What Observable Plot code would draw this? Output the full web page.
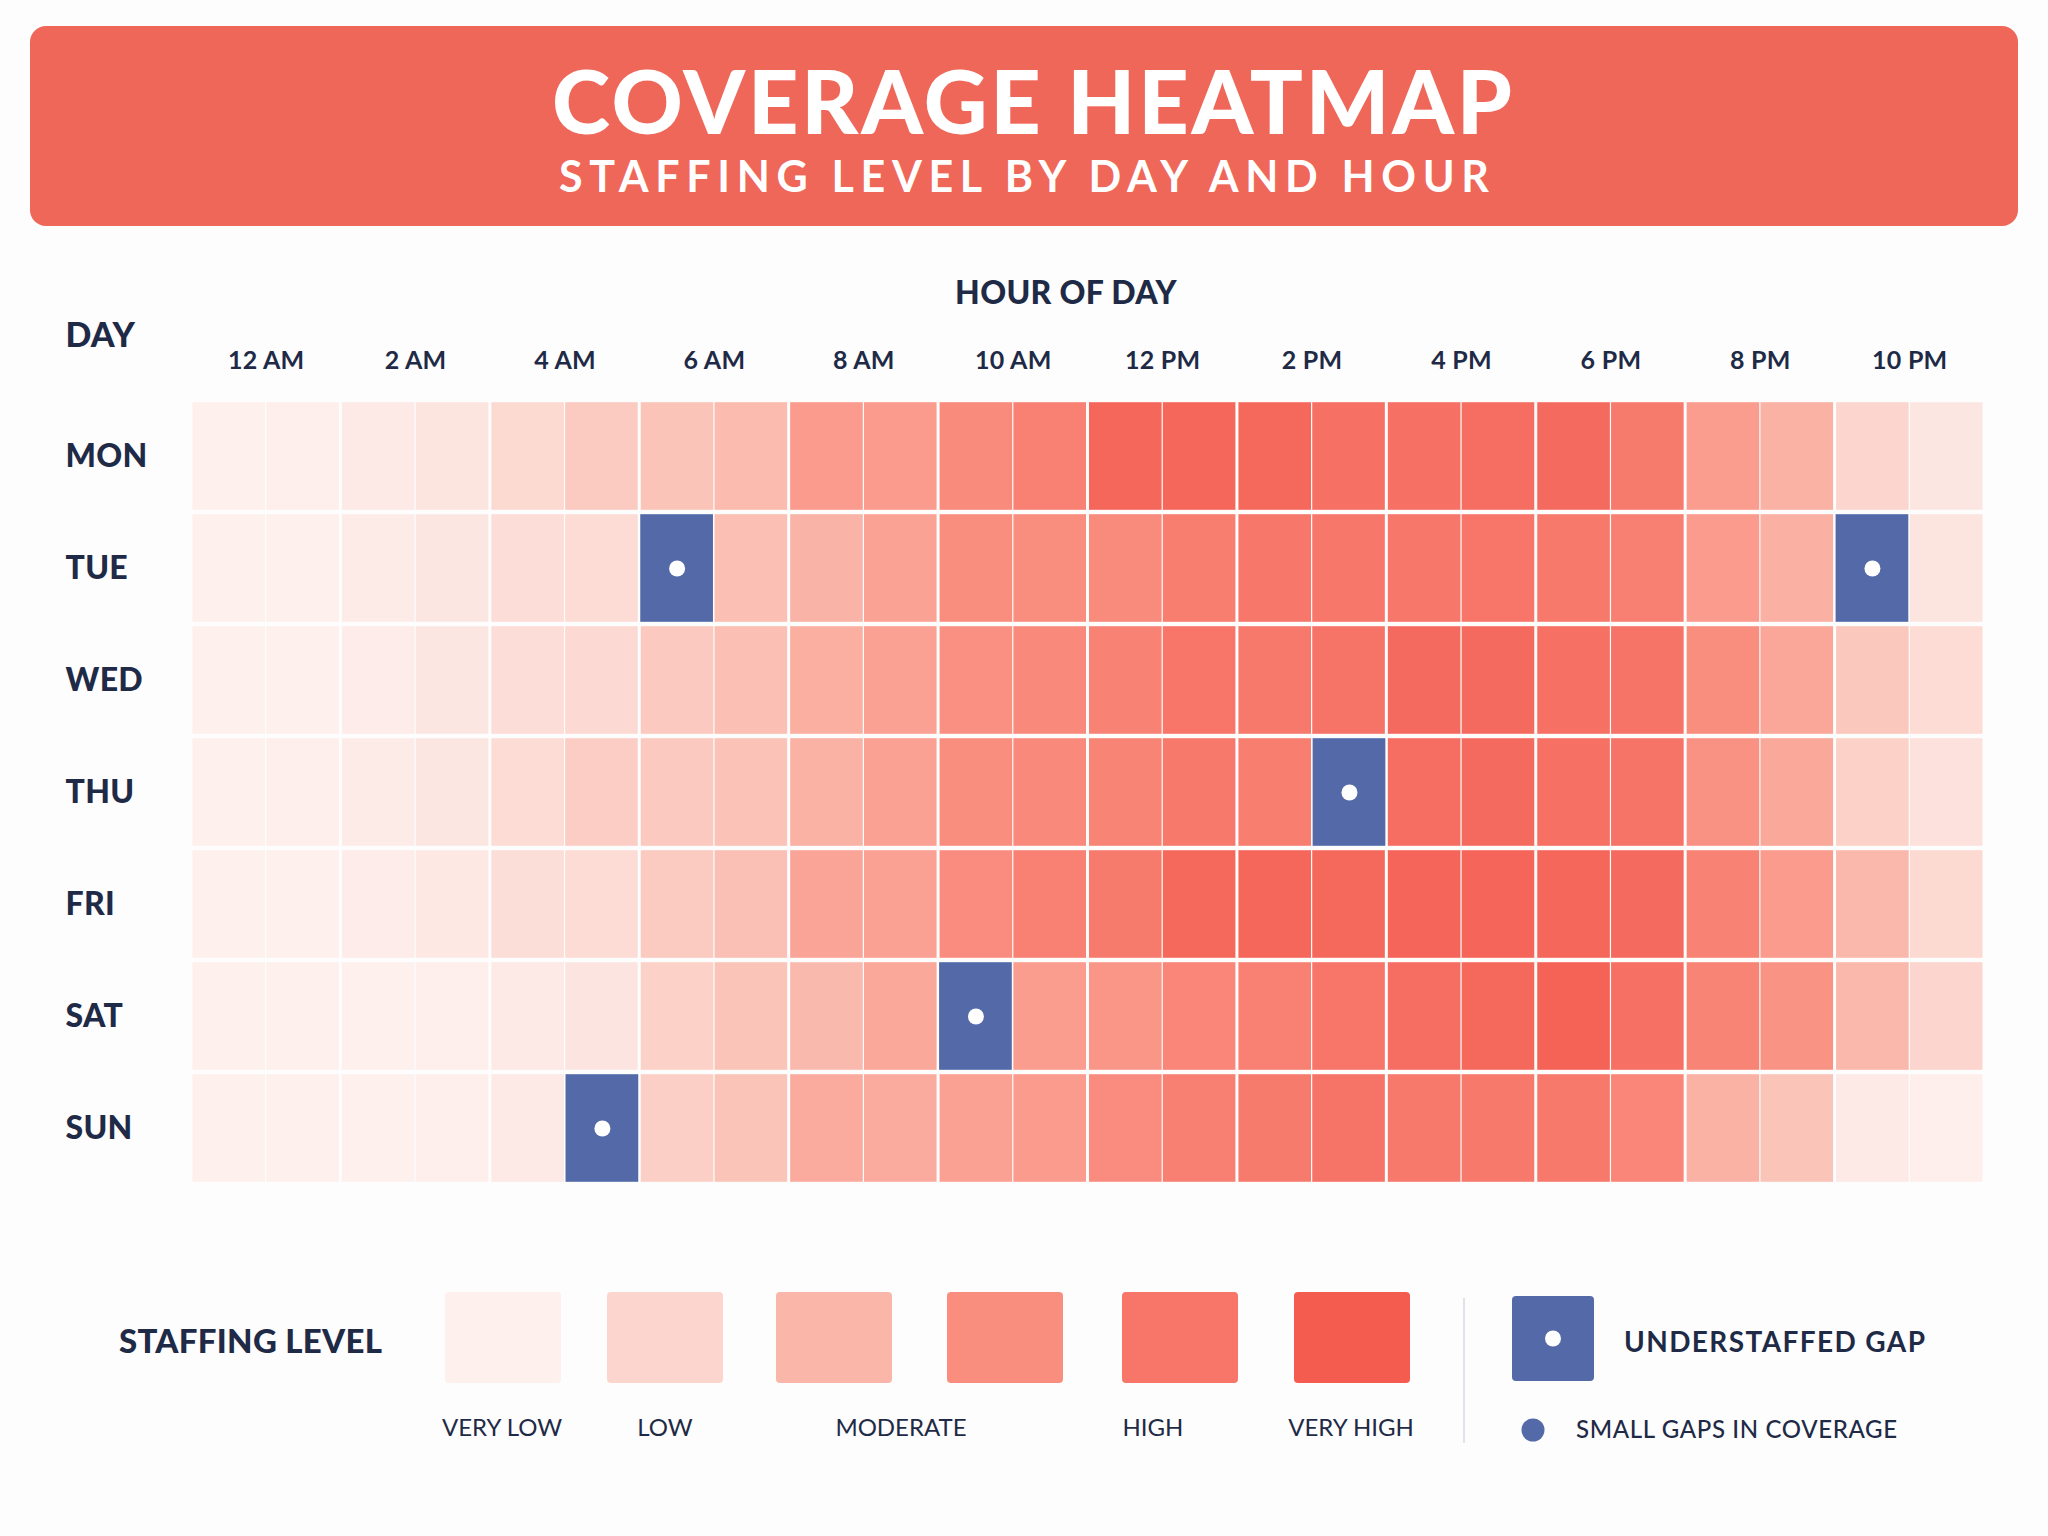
<!DOCTYPE html>
<html>
<head>
<meta charset="utf-8">
<script src="https://cdn.jsdelivr.net/npm/d3@7"></script>
<script src="https://cdn.jsdelivr.net/npm/@observablehq/plot@0.6"></script>
<style>
  html, body { margin: 0; padding: 0; background: #FDFDFD; }
  #page { position: relative; width: 2048px; height: 1536px; overflow: hidden; font-family: Lato, "Open Sans", sans-serif; }
  #page > svg { position: absolute; left: 0; }
</style>
</head>
<body>
<div id="page"></div>
<script>
// Rows of the heatmap and the hour labels along the top
const days = ["MON", "TUE", "WED", "THU", "FRI", "SAT", "SUN"];
const hourLabels = ["12 AM", "2 AM", "4 AM", "6 AM", "8 AM", "10 AM", "12 PM", "2 PM", "4 PM", "6 PM", "8 PM", "10 PM"];

// Staffing level per hour (0..23), 1 = very low, 10 = very high; null = understaffed gap
const mon = [1, 1.1, 1.6, 2, 2.8, 3.6, 4, 4.5, 6.3, 6.3, 7.2, 7.8, 9.4, 9.4, 9.3, 8.8, 8.8, 9, 9.2, 8.2, 6.2, 5, 3, 1.8];
const tue = [1, 1, 1.4, 1.8, 2.5, 2.6, null, 4.3, 4.9, 5.9, 7, 7, 7.2, 8, 8.4, 8.4, 8.4, 8.5, 8.3, 7.9, 6.3, 5.1, null, 2];
const wed = [1, 1, 1.3, 1.8, 2.5, 2.7, 3.7, 4.3, 5.2, 6, 6.9, 7.3, 7.7, 8.5, 8.3, 8.6, 9.2, 9.2, 8.8, 8.6, 7, 5.7, 3.8, 2.6];
const thu = [1, 1.1, 1.4, 1.8, 2.6, 3.5, 3.7, 4.1, 5, 6, 7, 7.3, 7.6, 8.3, 8, null, 9, 9.2, 8.8, 8.6, 6.8, 5.6, 3.3, 2.2];
const fri = [1, 1, 1.3, 1.7, 2.4, 2.6, 3.6, 4.2, 5.8, 6, 7.1, 7.8, 8.2, 9.3, 9.4, 9.3, 9.5, 9.5, 9.4, 9.2, 7.7, 6.3, 4.7, 2.8];
const sat = [1, 1, 1, 1.1, 1.6, 1.9, 3.3, 4, 4.6, 5.6, null, 6.2, 6.6, 7.5, 7.8, 8.5, 9, 9.3, 9.6, 8.8, 7.6, 6.7, 4.7, 3];
const sun = [1, 1, 1, 1.1, 1.6, null, 3.4, 4, 5.4, 5.4, 6, 6.3, 7.1, 7.9, 8.2, 8.6, 8.3, 8.3, 8.3, 7.5, 5, 4, 1.6, 1.1];

// Understaffed hours, drawn in blue with a marker dot
const gapDays = ["TUE", "TUE", "THU", "SAT", "SUN"];
const gapHours = [6, 22, 15, 10, 5];

// Colour ramp for staffing level
const levelStops = [1, 2, 3, 4, 5, 6, 7, 8, 9, 10];
const levelColors = ["#FEF0ED", "#FCE4DF", "#FCD6CE", "#FBC4B9", "#FAB2A5", "#FAA193", "#F98E7F", "#F87E70", "#F56E61", "#F55C50"];

// Legend swatches and their captions
const legendLevels = [1, 3, 4.8, 7, 8.5, 10];
const legendNames = ["VERY LOW", "LOW", "MODERATE", "HIGH", "VERY HIGH"];

const NAVY = "#1F2A46";
const GAP_BLUE = "#5469A8";
const HEADER_RED = "#EF6759";

const series = [mon, tue, wed, thu, fri, sat, sun];
const cells = days.flatMap((day, i) => series[i].map((level, hour) => ({day, hour, level})))
  .filter(d => d.level != null);
const gaps = gapDays.map((day, i) => ({day, hour: gapHours[i]}));

const page = d3.select("#page");

// ---- Header banner ----
const header = page.append("svg").attr("width", 2048).attr("height", 240).style("top", "0px");
header.append("rect").attr("x", 30).attr("y", 26).attr("width", 1988).attr("height", 200)
  .attr("rx", 16).attr("fill", HEADER_RED);
header.append("text").text("COVERAGE HEATMAP")
  .attr("x", 1032).attr("y", 134).attr("text-anchor", "middle")
  .attr("textLength", 960).attr("lengthAdjust", "spacing")
  .attr("fill", "white").style("font", "900 88px Lato");
header.append("text").text("STAFFING LEVEL BY DAY AND HOUR")
  .attr("x", 1024).attr("y", 192).attr("text-anchor", "middle")
  .attr("textLength", 930).attr("lengthAdjust", "spacing")
  .attr("fill", "white").style("font", "700 43px Lato");

// ---- Heatmap ----
const cellOpts = {x1: "hour", x2: d => d.hour + 1, y: "day", insetTop: 2.2, insetBottom: 2.2};
const chart = Plot.plot({
  width: 2048,
  height: 942,
  marginTop: 150,
  marginLeft: 191,
  marginRight: 64,
  marginBottom: 8,
  style: {fontFamily: "Lato", color: NAVY, background: "transparent", overflow: "visible"},
  x: {domain: [0, 24], axis: null},
  y: {domain: days, padding: 0, axis: null},
  color: {type: "linear", domain: levelStops, range: levelColors, interpolate: "rgb"},
  marks: [
    Plot.barX(cells.filter(d => d.hour % 2 === 0), {...cellOpts, fill: "level", insetLeft: 1.5, insetRight: 0.6}),
    Plot.barX(cells.filter(d => d.hour % 2 === 1), {...cellOpts, fill: "level", insetLeft: 0.6, insetRight: 1.5}),
    Plot.barX(gaps, {...cellOpts, fill: GAP_BLUE, insetLeft: 1, insetRight: 1}),
    Plot.dot(gaps, {x: d => d.hour + 0.5, y: "day", r: 8, fill: "white"}),
    Plot.axisX(hourLabels.map((_, i) => 2 * i + 1), {
      anchor: "top", label: null, tickSize: 0, tickPadding: 32,
      tickFormat: d => hourLabels[(d - 1) / 2],
      fontSize: 25, fontWeight: 700
    }),
    Plot.axisY({anchor: "left", label: null, tickSize: 0, tickPadding: 0, textAnchor: "start", dx: -126, fontSize: 32, fontWeight: 900}),
    Plot.text(["HOUR OF DAY"], {frameAnchor: "top", lineAnchor: "middle", dx: -22, dy: -107, fontSize: 32, fontWeight: 900, fill: NAVY}),
    Plot.text(["DAY"], {frameAnchor: "top-left", lineAnchor: "middle", textAnchor: "start", dx: -126, dy: -64, fontSize: 34, fontWeight: 900, fill: NAVY})
  ]
});
d3.select(chart).style("top", "250px").style("letter-spacing", "0.03em");
d3.select(chart).selectAll("g[aria-label='x-axis tick label'] text").style("letter-spacing", "0.01em");
page.node().appendChild(chart);

// ---- Legend ----
const color = chart.scale("color");
const legend = page.append("svg").attr("width", 2048).attr("height", 286).style("top", "1250px");
legend.append("text").text("STAFFING LEVEL")
  .attr("x", 119).attr("y", 103).attr("textLength", 263).attr("lengthAdjust", "spacing")
  .attr("fill", NAVY).style("font", "900 33px Lato");

const swatchX = [445, 607, 776, 947, 1122, 1294];
legend.selectAll("rect.sw").data(legendLevels).join("rect").attr("class", "sw")
  .attr("x", (d, i) => swatchX[i]).attr("y", 42).attr("width", 116).attr("height", 91).attr("rx", 4)
  .attr("fill", d => color.apply(d));

const captionX = [502, 665, 901, 1153, 1351];
legend.selectAll("text.cap").data(legendNames).join("text").attr("class", "cap")
  .text(d => d).attr("x", (d, i) => captionX[i]).attr("y", 186).attr("text-anchor", "middle")
  .attr("fill", NAVY).style("font", "400 24px Lato");

legend.append("line").attr("x1", 1464).attr("x2", 1464).attr("y1", 48).attr("y2", 193)
  .attr("stroke", "#D7DAE0").attr("stroke-width", 1.5);

legend.append("rect").attr("x", 1512).attr("y", 46).attr("width", 82).attr("height", 85).attr("rx", 4)
  .attr("fill", GAP_BLUE);
legend.append("circle").attr("cx", 1553).attr("cy", 88.5).attr("r", 8).attr("fill", "white");
legend.append("text").text("UNDERSTAFFED GAP")
  .attr("x", 1624).attr("y", 102).attr("textLength", 301).attr("lengthAdjust", "spacing")
  .attr("fill", NAVY).style("font", "700 28px Lato");

legend.append("circle").attr("cx", 1533).attr("cy", 180).attr("r", 11.5).attr("fill", GAP_BLUE);
legend.append("text").text("SMALL GAPS IN COVERAGE")
  .attr("x", 1576).attr("y", 188).attr("textLength", 321).attr("lengthAdjust", "spacing")
  .attr("fill", NAVY).style("font", "500 24px Lato");
</script>
</body>
</html>
